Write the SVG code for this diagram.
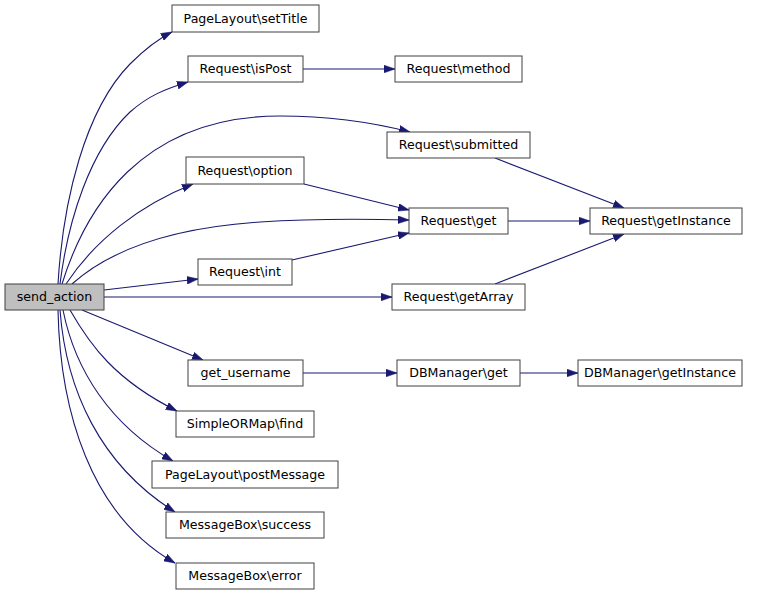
<svg xmlns="http://www.w3.org/2000/svg" width="760" height="595" viewBox="0 0 760 595">
<style>
.n rect{fill:#ffffff;stroke:#404040;stroke-width:1}
.n.root rect{fill:#bfbfbf}
.n text{font-family:"DejaVu Sans","Liberation Sans",sans-serif;font-size:12.6px;fill:#000;text-anchor:middle}
.e path{fill:none;stroke:#191970;stroke-width:1.1;marker-end:url(#ah)}
</style>
<defs>
<marker id="ah" viewBox="0 0 10 7" refX="10" refY="3.5" markerWidth="11" markerHeight="8" markerUnits="userSpaceOnUse" orient="auto">
<path d="M0,0 L10,3.5 L0,7 z" fill="#191970" stroke="#191970" stroke-width="0.5"/>
</marker>
</defs>
<rect width="760" height="595" fill="#ffffff"/>
<g id="edges" class="e">
<path d="M58,284 C63,200 85,110 130,64 C145,49 158,39 172,32"/>
<path d="M60,284 C68,220 90,150 130,112 C148,96 165,89 188,82"/>
<path d="M62,284 C85,210 140,116 280,116 C330,116 375,123 410,132"/>
<path d="M66,284 C95,240 140,205 193,184"/>
<path d="M72,284 C110,250 170,228 260,222 C320,218 370,219 409,220"/>
<path d="M304,184 L409,210"/>
<path d="M292,260 L409,233"/>
<path d="M303,69 L395,69"/>
<path d="M495,158 L624,208"/>
<path d="M508,221 L590,221"/>
<path d="M495,284 L624,234"/>
<path d="M104,290 L198,279"/>
<path d="M104,297 L392,297"/>
<path d="M82,310 L203,360"/>
<path d="M303,373 L397,373"/>
<path d="M520,373 L578,373"/>
<path d="M70,310 C90,345 115,380 177,411"/>
<path d="M63,310 C75,370 110,425 173,461"/>
<path d="M60,310 C66,390 100,465 175,512"/>
<path d="M58,310 C60,410 90,515 175,563"/>
</g>
<g id="send_action" class="n root"><rect x="5" y="284" width="99" height="26"/><text x="54.5" y="301">send_action</text></g>
<g id="setTitle" class="n"><rect x="172" y="5" width="147" height="27"/><text x="245.5" y="23">PageLayout\setTitle</text></g>
<g id="isPost" class="n"><rect x="188" y="56" width="115" height="26"/><text x="245.5" y="73">Request\isPost</text></g>
<g id="option" class="n"><rect x="186" y="157" width="118" height="27"/><text x="245" y="175">Request\option</text></g>
<g id="method" class="n"><rect x="395" y="56" width="127" height="26"/><text x="458.5" y="73">Request\method</text></g>
<g id="submitted" class="n"><rect x="387" y="132" width="143" height="26"/><text x="458.5" y="149">Request\submitted</text></g>
<g id="get" class="n"><rect x="409" y="208" width="99" height="26"/><text x="458.5" y="225">Request\get</text></g>
<g id="getInstance" class="n"><rect x="590" y="208" width="152" height="26"/><text x="666" y="225">Request\getInstance</text></g>
<g id="int" class="n"><rect x="198" y="259" width="94" height="26"/><text x="245" y="276">Request\int</text></g>
<g id="getArray" class="n"><rect x="392" y="284" width="133" height="26"/><text x="458.5" y="301">Request\getArray</text></g>
<g id="get_username" class="n"><rect x="188" y="360" width="115" height="26"/><text x="245.5" y="377">get_username</text></g>
<g id="dbget" class="n"><rect x="397" y="360" width="123" height="26"/><text x="458.5" y="377">DBManager\get</text></g>
<g id="dbgetInstance" class="n"><rect x="578" y="360" width="164" height="26"/><text x="660" y="377">DBManager\getInstance</text></g>
<g id="find" class="n"><rect x="176" y="411" width="138" height="26"/><text x="245" y="428">SimpleORMap\find</text></g>
<g id="postMessage" class="n"><rect x="152" y="461" width="186" height="27"/><text x="245" y="479">PageLayout\postMessage</text></g>
<g id="success" class="n"><rect x="166" y="512" width="158" height="26"/><text x="245" y="529">MessageBox\success</text></g>
<g id="error" class="n"><rect x="176" y="563" width="138" height="26"/><text x="245" y="580">MessageBox\error</text></g>
</svg>
